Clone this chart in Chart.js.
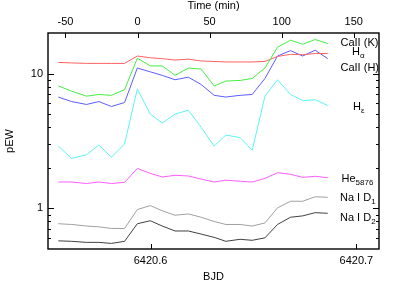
<!DOCTYPE html>
<html>
<head>
<meta charset="utf-8">
<script src="https://cdn.jsdelivr.net/npm/chart.js@4.4.0/dist/chart.umd.min.js"></script>
<style>
  body { margin: 0; background: #fff; }
</style>
</head>
<body>
<canvas id="pewChart" width="399" height="285"></canvas>
<script>
////Observation times (BJD - 2450000)
const bjd = [6420.5552, 6420.5617, 6420.5689, 6420.5749, 6420.5810, 6420.5874, 6420.5936, 6420.5999,
             6420.6057, 6420.6119, 6420.6184, 6420.6246, 6420.6309, 6420.6366, 6420.6435, 6420.6494,
             6420.6556, 6420.6617, 6420.6680, 6420.6739, 6420.6800, 6420.6861];

////pEW of each line, one value per spectrum
const caK    = [12.1, 12.0, 11.9, 11.9, 11.9, 11.9, 13.5, 13.1, 12.9, 12.6, 12.8, 12.4, 12.3, 12.2, 12.2, 12.2, 12.3, 13.4, 13.9, 13.8, 14.1, 14.1];
const hAlpha = [8.1, 7.4, 6.8, 7.0, 6.9, 7.6, 13.0, 11.4, 11.4, 9.7, 11.0, 10.8, 8.1, 8.8, 8.9, 9.2, 11.0, 15.7, 17.7, 16.5, 17.9, 16.7];
const caH    = [6.7, 6.2, 5.9, 6.2, 5.7, 6.1, 11.0, 10.3, 9.7, 9.0, 9.4, 8.3, 6.9, 6.7, 6.9, 7.0, 9.2, 13.5, 14.8, 13.5, 14.9, 12.9];
const hEps   = [2.9, 2.35, 2.5, 2.95, 2.4, 3.0, 7.7, 5.0, 4.3, 5.0, 5.35, 4.0, 2.9, 3.5, 3.35, 2.7, 6.8, 9.0, 7.0, 6.3, 6.4, 5.8];
const he5876 = [1.57, 1.57, 1.53, 1.57, 1.53, 1.56, 1.98, 1.82, 1.71, 1.76, 1.74, 1.65, 1.57, 1.62, 1.59, 1.57, 1.67, 1.84, 1.79, 1.70, 1.73, 1.69];
const naD1   = [0.77, 0.76, 0.74, 0.73, 0.71, 0.71, 0.98, 1.05, 0.96, 0.89, 0.91, 0.86, 0.80, 0.76, 0.76, 0.74, 0.78, 1.01, 1.13, 1.13, 1.22, 1.21];
const naD2   = [0.575, 0.57, 0.56, 0.56, 0.55, 0.57, 0.77, 0.81, 0.74, 0.68, 0.68, 0.645, 0.61, 0.57, 0.59, 0.58, 0.605, 0.76, 0.86, 0.88, 0.93, 0.92];

////Tick values
const bjdTicks  = [6420.6, 6420.7];
const timeTicks = [-50, 0, 50, 100, 150];
const pewTicks  = [1, 10];
const pewMinor  = [0.6, 0.7, 0.8, 0.9, 2, 3, 4, 5, 6, 7, 8, 9];

////Line names drawn at the right end: [main text, subscript]
const lineNames = [["CaII (K)", ""], ["H", "α"], ["CaII (H)", ""], ["H", "ε"], ["He", "5876"], ["Na I D", "1"], ["Na I D", "2"]];

const FONT = "'Liberation Sans', Arial, sans-serif";

//build {x,y} points from the arrays
function pts(vals) {
    return bjd.map((x, i) => ({ x: x, y: vals[i] }));
}

//Frame, inward ticks and the line names
const frameAndNames = {
    id: 'frameAndNames',
    afterDatasetsDraw(chart) {
        const { ctx, chartArea: a, scales } = chart;
        ctx.save();
        ctx.strokeStyle = '#000';
        ctx.lineWidth = 1;
        ctx.beginPath();
        for (const v of bjdTicks) {
            const x = Math.round(scales.x.getPixelForValue(v)) + 0.5;
            ctx.moveTo(x, a.bottom); ctx.lineTo(x, a.bottom - 5);
        }
        for (const v of timeTicks) {
            const x = Math.round(scales.x2.getPixelForValue(v)) + 0.5;
            ctx.moveTo(x, a.top); ctx.lineTo(x, a.top + 5);
        }
        for (const v of pewTicks) {
            const y = Math.round(scales.y.getPixelForValue(v)) + 0.5;
            ctx.moveTo(a.left, y); ctx.lineTo(a.left + 6, y);
            ctx.moveTo(a.right, y); ctx.lineTo(a.right - 6, y);
        }
        for (const v of pewMinor) {
            const y = Math.round(scales.y.getPixelForValue(v)) + 0.5;
            ctx.moveTo(a.left, y); ctx.lineTo(a.left + 3, y);
            ctx.moveTo(a.right, y); ctx.lineTo(a.right - 3, y);
        }
        ctx.stroke();

        ctx.lineWidth = 1.4;
        ctx.strokeRect(a.left, a.top, a.right - a.left, a.bottom - a.top);

        //line names, placed from the right edge of the plot
        const spots = [[-38.5, 43], [-27, 52], [-38.5, 67.5], [-26, 107], [-37.5, 179], [-39, 198], [-39, 217.5]];
        ctx.fillStyle = '#000';
        ctx.textBaseline = 'middle';
        ctx.textAlign = 'left';
        lineNames.forEach((n, i) => {
            const x = a.right + spots[i][0];
            const y = spots[i][1];
            ctx.font = '11px ' + FONT;
            ctx.fillText(n[0], x, y);
            if (n[1]) {
                const w = ctx.measureText(n[0]).width;
                ctx.font = '8px ' + FONT;
                ctx.fillText(n[1], x + w, y + 4);
            }
        });
        ctx.restore();
    }
};

const lineStyle = (label, vals, color) => ({
    label: label,
    data: pts(vals),
    borderColor: color,
    borderWidth: 1,
    pointRadius: 0,
    tension: 0,
    fill: false
});

var ctx = document.getElementById("pewChart").getContext('2d');
var pewChart = new Chart(ctx, {
    type: 'line',
    data: {
        datasets: [
            lineStyle('Na I D2', naD2, '#404040'),
            lineStyle('Na I D1', naD1, '#a0a0a0'),
            lineStyle('He5876', he5876, '#ff5cff'),
            lineStyle('Heps', hEps, '#5cf5f5'),
            lineStyle('Halpha', hAlpha, '#44ee44'),
            lineStyle('CaII K', caK, '#ff6060'),
            lineStyle('CaII H', caH, '#5c5cff')
        ]
    },
    options: {
        responsive: false,
        animation: false,
        devicePixelRatio: 1,
        layout: { padding: { right: 20 } },
        plugins: { legend: { display: false }, tooltip: { enabled: false } },
        scales: {
            x: {
                type: 'linear',
                position: 'bottom',
                min: 6420.5502,
                max: 6420.7110,
                afterBuildTicks: s => { s.ticks = bjdTicks.map(v => ({ value: v })); },
                afterFit: s => { s.height = 36; },
                grid: { display: false, drawTicks: false },
                border: { display: false },
                ticks: { padding: 5.5, color: '#000', font: { family: FONT, size: 11 }, maxRotation: 0,
                         callback: v => v.toFixed(1) },
                title: { display: true, text: 'BJD', color: '#000', font: { family: FONT, size: 11 },
                         padding: { top: 0, bottom: 1 } }
            },
            x2: {
                type: 'linear',
                position: 'top',
                min: -62.1,
                max: 167.5,
                afterBuildTicks: s => { s.ticks = timeTicks.map(v => ({ value: v })); },
                afterFit: s => { s.height = 33; },
                grid: { display: false, drawTicks: false },
                border: { display: false },
                ticks: { padding: 4, color: '#000', font: { family: FONT, size: 11 }, maxRotation: 0,
                         callback: v => String(v) },
                title: { display: true, text: 'Time (min)', color: '#000',
                         font: { family: FONT, size: 11, lineHeight: 1 }, padding: { top: 0, bottom: 0 } }
            },
            y: {
                type: 'logarithmic',
                position: 'left',
                min: 0.5,
                max: 20,
                afterBuildTicks: s => { s.ticks = pewTicks.map(v => ({ value: v })); },
                afterFit: s => { s.width = 48; },
                grid: { display: false, drawTicks: false },
                border: { display: false },
                ticks: { padding: 5, color: '#000', font: { family: FONT, size: 11 },
                         callback: v => String(v) },
                title: { display: true, text: 'pEW', color: '#000', font: { family: FONT, size: 11 },
                         padding: { top: 3, bottom: 0 } }
            }
        }
    },
    plugins: [frameAndNames]
});
</script>
</body>
</html>
